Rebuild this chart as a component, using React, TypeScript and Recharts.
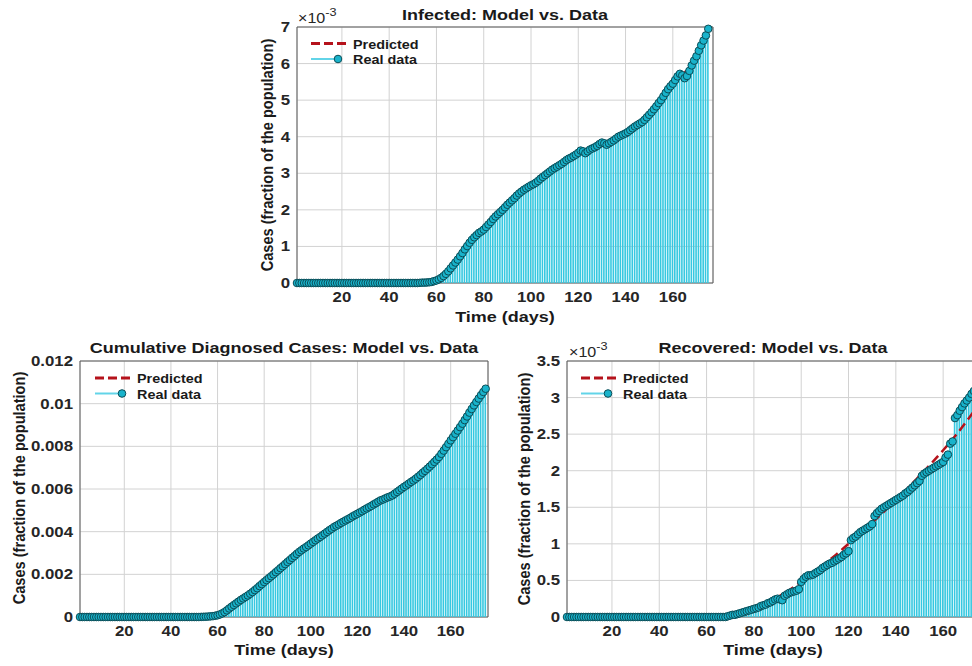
import React from "react"
import {
  ComposedChart,
  Bar,
  Line,
  XAxis,
  YAxis,
  CartesianGrid,
  ReferenceArea,
} from "recharts"

// values, one per day (day 1 .. 175)
// infected and recovered are in units of 1e-3, cumulative too (ticks show the real fraction)
const infected = [
  0, 0, 0, 0, 0, 0, 0, 0, 0, 0,
  0, 0, 0, 0, 0, 0, 0, 0, 0, 0,
  0, 0, 0, 0, 0, 0, 0, 0, 0, 0,
  0, 0, 0, 0, 0, 0, 0, 0, 0, 0,
  0, 0, 0, 0, 0, 0, 0, 0, 0, 0,
  0, 0, 0.005, 0.01, 0.01, 0.015, 0.02, 0.03, 0.05, 0.07,
  0.1, 0.14, 0.19, 0.25, 0.32, 0.4, 0.48, 0.56, 0.64, 0.73,
  0.82, 0.92, 1.01, 1.1, 1.18, 1.25, 1.31, 1.37, 1.41, 1.46,
  1.53, 1.6, 1.67, 1.75, 1.82, 1.88, 1.94, 2.0, 2.07, 2.14,
  2.2, 2.26, 2.32, 2.39, 2.45, 2.5, 2.55, 2.59, 2.63, 2.67,
  2.7, 2.74, 2.79, 2.85, 2.9, 2.95, 3.0, 3.05, 3.1, 3.14,
  3.18, 3.22, 3.26, 3.31, 3.36, 3.4, 3.43, 3.47, 3.51, 3.56,
  3.62, 3.6, 3.55, 3.6, 3.65, 3.68, 3.71, 3.75, 3.8, 3.84,
  3.82, 3.78, 3.82, 3.86, 3.9, 3.95, 4.0, 4.03, 4.06, 4.09,
  4.13, 4.18, 4.23, 4.28, 4.32, 4.36, 4.4, 4.46, 4.53, 4.6,
  4.67, 4.75, 4.83, 4.92, 5.0, 5.1, 5.2, 5.3, 5.38, 5.45,
  5.55, 5.65, 5.72, 5.68, 5.6, 5.66, 5.8, 5.95, 6.08, 6.2,
  6.35, 6.5, 6.63, 6.77, 6.95,
]

const cumulative = [
  0, 0, 0, 0, 0, 0, 0, 0, 0, 0,
  0, 0, 0, 0, 0, 0, 0, 0, 0, 0,
  0, 0, 0, 0, 0, 0, 0, 0, 0, 0,
  0, 0, 0, 0, 0, 0, 0, 0, 0, 0,
  0, 0, 0, 0, 0, 0, 0, 0, 0, 0,
  0, 0, 0.005, 0.01, 0.015, 0.02, 0.03, 0.04, 0.06, 0.08,
  0.12, 0.17, 0.23, 0.31, 0.4, 0.48, 0.56, 0.64, 0.72, 0.8,
  0.87, 0.94, 1.01, 1.09, 1.17, 1.26, 1.35, 1.45, 1.54, 1.64,
  1.73, 1.82, 1.91, 2.0, 2.1, 2.19, 2.29, 2.38, 2.48, 2.58,
  2.67, 2.77, 2.86, 2.96, 3.05, 3.13, 3.21, 3.28, 3.36, 3.44,
  3.52, 3.6, 3.68, 3.75, 3.83, 3.91, 3.99, 4.07, 4.14, 4.22,
  4.28, 4.34, 4.41, 4.47, 4.53, 4.59, 4.65, 4.72, 4.78, 4.84,
  4.9, 4.96, 5.03, 5.09, 5.15, 5.21, 5.28, 5.34, 5.41, 5.47,
  5.51, 5.56, 5.61, 5.65, 5.7, 5.78, 5.86, 5.94, 6.02, 6.1,
  6.17, 6.25, 6.33, 6.4, 6.48, 6.57, 6.66, 6.76, 6.85, 6.95,
  7.05, 7.16, 7.27, 7.38, 7.5, 7.65, 7.8, 7.96, 8.12, 8.28,
  8.43, 8.59, 8.74, 8.9, 9.06, 9.23, 9.4, 9.58, 9.75, 9.92,
  10.08, 10.24, 10.4, 10.55, 10.7,
]

const recovered = [
  0, 0, 0, 0, 0, 0, 0, 0, 0, 0,
  0, 0, 0, 0, 0, 0, 0, 0, 0, 0,
  0, 0, 0, 0, 0, 0, 0, 0, 0, 0,
  0, 0, 0, 0, 0, 0, 0, 0, 0, 0,
  0, 0, 0, 0, 0, 0, 0, 0, 0, 0,
  0, 0, 0, 0, 0, 0, 0, 0, 0, 0,
  0, 0, 0, 0, 0, 0, 0, 0, 0.01, 0.02,
  0.03, 0.03, 0.04, 0.05, 0.06, 0.07, 0.08, 0.09, 0.1, 0.11,
  0.12, 0.13, 0.15, 0.16, 0.17, 0.19, 0.2, 0.22, 0.24, 0.25,
  0.24, 0.23, 0.29, 0.31, 0.33, 0.34, 0.35, 0.36, 0.38, 0.48,
  0.52, 0.55, 0.57, 0.57, 0.58, 0.6, 0.62, 0.64, 0.67, 0.69,
  0.71, 0.73, 0.74, 0.76, 0.78, 0.8, 0.82, 0.85, 0.87, 0.9,
  1.05, 1.08, 1.1, 1.13, 1.16, 1.18, 1.2, 1.22, 1.24, 1.27,
  1.38, 1.42, 1.45, 1.48, 1.5, 1.52, 1.54, 1.56, 1.58, 1.6,
  1.62, 1.64, 1.66, 1.69, 1.71, 1.74, 1.77, 1.8, 1.83, 1.86,
  1.93, 1.96, 1.98, 2.0, 2.02, 2.04, 2.06, 2.08, 2.1, 2.12,
  2.18, 2.22, 2.37, 2.4, 2.72, 2.76, 2.82, 2.87, 2.92, 2.96,
  3.0, 3.05, 3.09, 3.13, 3.17,
]

// model curves, read at fewer days
const predDays = [1, 20, 40, 50, 55, 60, 65, 70, 75, 80, 85, 90, 95, 100, 105, 110, 115, 120, 125, 130, 135, 140, 145, 150, 155, 160, 165, 170, 175]
const infectedPred = [0, 0, 0, 0, 0.01, 0.07, 0.32, 0.74, 1.17, 1.5, 1.83, 2.14, 2.44, 2.69, 2.92, 3.14, 3.35, 3.54, 3.68, 3.8, 3.92, 4.1, 4.33, 4.62, 5.0, 5.44, 5.75, 6.2, 6.9]
const cumulativePred = [0, 0, 0, 0, 0.015, 0.08, 0.4, 0.8, 1.17, 1.64, 2.1, 2.58, 3.05, 3.44, 3.83, 4.22, 4.53, 4.84, 5.15, 5.47, 5.7, 6.1, 6.48, 6.95, 7.5, 8.28, 9.06, 9.92, 10.7]
const recoveredPred = [0, 0, 0, 0, 0, 0, 0, 0.02, 0.06, 0.11, 0.18, 0.27, 0.37, 0.48, 0.6, 0.73, 0.86, 1.0, 1.14, 1.29, 1.44, 1.6, 1.76, 1.93, 2.1, 2.28, 2.47, 2.68, 2.9]

const xTicks = [20, 40, 60, 80, 100, 120, 140, 160]
const infectedTicks = [0, 1, 2, 3, 4, 5, 6, 7]
const cumulativeTicks = [0, 2, 4, 6, 8, 10, 12]
const recoveredTicks = [0, 0.5, 1, 1.5, 2, 2.5, 3, 3.5]

const FONT = "'Liberation Sans', Arial, Helvetica, sans-serif"
const SX = 1.2
const STEM = "#36c8e0"
const MARK = "#19b3cb"
const MARK_EDGE = "#0b4d57"
const RED = "#b5121b"

const toRows = (vals: number[]) => vals.map((v, i) => ({ day: i + 1, v }))
const toPred = (vals: number[]) => vals.map((p, i) => ({ day: predDays[i], p }))

function XTick(props: any) {
  const { x, y, payload } = props
  return (
    <text
      transform={`translate(${x} ${y + 19}) scale(${SX} 1)`}
      textAnchor="middle"
      fontFamily={FONT}
      fontWeight="bold"
      fontSize={14}
      fill="#262626"
    >
      {payload.value}
    </text>
  )
}

function makeYTick(fmt: (v: number) => string) {
  return function YTick(props: any) {
    const { x, y, payload } = props
    return (
      <text
        transform={`translate(${x - 7} ${y + 5}) scale(${SX} 1)`}
        textAnchor="end"
        fontFamily={FONT}
        fontWeight="bold"
        fontSize={14}
        fill="#262626"
      >
        {fmt(payload.value)}
      </text>
    )
  }
}

type PanelProps = {
  left: number
  top: number
  plotLeft: number
  plotRight: number
  plotTop: number
  plotBottom: number
  xMax: number
  yMax: number
  yTicks: number[]
  yFmt: (v: number) => string
  rows: { day: number; v: number }[]
  pred: { day: number; p: number }[]
}

function Panel(p: PanelProps) {
  const W = p.plotRight - p.left + 8
  const H = p.plotBottom - p.top + 28
  return (
    <div style={{ position: "absolute", left: p.left, top: p.top }}>
      <ComposedChart
        width={W}
        height={H}
        data={p.rows}
        margin={{ top: p.plotTop - p.top, right: 8, bottom: 0, left: 0 }}
      >
        <CartesianGrid stroke="#d2d2d2" strokeWidth={1} />
        <XAxis
          dataKey="day"
          type="number"
          domain={[1, p.xMax]}
          ticks={xTicks}
          height={28}
          tickSize={0}
          tickMargin={0}
          tickLine={false}
          axisLine={false}
          tick={<XTick />}
          interval={0}
        />
        <YAxis
          type="number"
          domain={[0, p.yMax]}
          ticks={p.yTicks}
          width={p.plotLeft - p.left}
          tickSize={0}
          tickMargin={0}
          tickLine={false}
          axisLine={false}
          tick={makeYTick(p.yFmt)}
          interval={0}
        />
        <Bar dataKey="v" fill={STEM} barSize={1.6} isAnimationActive={false} />
        <Line
          data={p.pred}
          dataKey="p"
          type="monotone"
          stroke={RED}
          strokeWidth={2.5}
          strokeDasharray="9 5"
          dot={false}
          activeDot={false}
          isAnimationActive={false}
        />
        <Line
          dataKey="v"
          stroke="none"
          dot={{ r: 3.8, fill: MARK, stroke: MARK_EDGE, strokeWidth: 1 }}
          activeDot={false}
          isAnimationActive={false}
        />
        <ReferenceArea
          x1={1}
          x2={p.xMax}
          y1={0}
          y2={p.yMax}
          fill="none"
          stroke="#5a5a5a"
          strokeWidth={1}
          ifOverflow="extendDomain"
        />
      </ComposedChart>
    </div>
  )
}

function SText(props: { x: number; y: number; size: number; anchor?: string; children: React.ReactNode }) {
  return (
    <text
      transform={`translate(${props.x} ${props.y}) scale(${SX} 1)`}
      textAnchor={props.anchor || "middle"}
      fontFamily={FONT}
      fontWeight="bold"
      fontSize={props.size}
      fill="#1a1a1a"
    >
      {props.children}
    </text>
  )
}

function YLabel({ x, y }: { x: number; y: number }) {
  return (
    <text
      transform={`translate(${x} ${y}) rotate(-90) scale(1 1.15)`}
      textAnchor="middle"
      fontFamily={FONT}
      fontWeight="bold"
      fontSize={14.6}
      fill="#1a1a1a"
    >
      Cases (fraction of the population)
    </text>
  )
}

function LegendBox({ x, y }: { x: number; y: number }) {
  return (
    <g>
      <line x1={x} x2={x + 38} y1={y} y2={y} stroke={RED} strokeWidth={3} strokeDasharray="9 4" />
      <SText x={x + 42} y={y + 5} size={12} anchor="start">Predicted</SText>
      <line x1={x} x2={x + 27} y1={y + 15.5} y2={y + 15.5} stroke="#62d4e8" strokeWidth={2} />
      <circle cx={x + 27} cy={y + 15.5} r={3.8} fill={MARK} stroke={MARK_EDGE} strokeWidth={1} />
      <SText x={x + 42} y={y + 20.5} size={12} anchor="start">Real data</SText>
    </g>
  )
}

function Exp({ x, y }: { x: number; y: number }) {
  return (
    <text
      transform={`translate(${x} ${y}) scale(1.15 1)`}
      fontFamily={FONT}
      fontSize={14}
      fill="#262626"
    >
      ×10
      <tspan fontSize={11} dy={-7}>-3</tspan>
    </text>
  )
}

export default function App() {
  const milli = (v: number) => String(v)
  const frac = (v: number) => String(Math.round(v * 1000) / 1000000)
  return (
    <div
      style={{
        position: "absolute",
        left: 0,
        top: 0,
        width: 972,
        height: 666,
        overflow: "hidden",
        background: "#fff",
      }}
    >
      <Panel
        left={240}
        top={0}
        plotLeft={297}
        plotRight={713}
        plotTop={27}
        plotBottom={283}
        xMax={177}
        yMax={7}
        yTicks={infectedTicks}
        yFmt={milli}
        rows={toRows(infected)}
        pred={toPred(infectedPred)}
      />
      <Panel
        left={0}
        top={340}
        plotLeft={80}
        plotRight={488}
        plotTop={361}
        plotBottom={617}
        xMax={176}
        yMax={12}
        yTicks={cumulativeTicks}
        yFmt={frac}
        rows={toRows(cumulative)}
        pred={toPred(cumulativePred)}
      />
      <Panel
        left={500}
        top={340}
        plotLeft={567}
        plotRight={981}
        plotTop={361}
        plotBottom={617}
        xMax={176}
        yMax={3.5}
        yTicks={recoveredTicks}
        yFmt={milli}
        rows={toRows(recovered)}
        pred={toPred(recoveredPred)}
      />
      <svg
        width={972}
        height={666}
        style={{ position: "absolute", left: 0, top: 0, pointerEvents: "none" }}
      >
        <SText x={505} y={20} size={15}>Infected: Model vs. Data</SText>
        <SText x={284} y={353} size={15}>Cumulative Diagnosed Cases: Model vs. Data</SText>
        <SText x={773} y={353} size={15}>Recovered: Model vs. Data</SText>

        <SText x={505} y={322} size={15}>Time (days)</SText>
        <SText x={284} y={655} size={15}>Time (days)</SText>
        <SText x={773} y={655} size={15}>Time (days)</SText>

        <YLabel x={273} y={155} />
        <YLabel x={25} y={488} />
        <YLabel x={530} y={489} />

        <Exp x={298} y={23} />
        <Exp x={569} y={357} />

        <LegendBox x={311} y={43.5} />
        <LegendBox x={95} y={378} />
        <LegendBox x={581} y={378} />
      </svg>
    </div>
  )
}
